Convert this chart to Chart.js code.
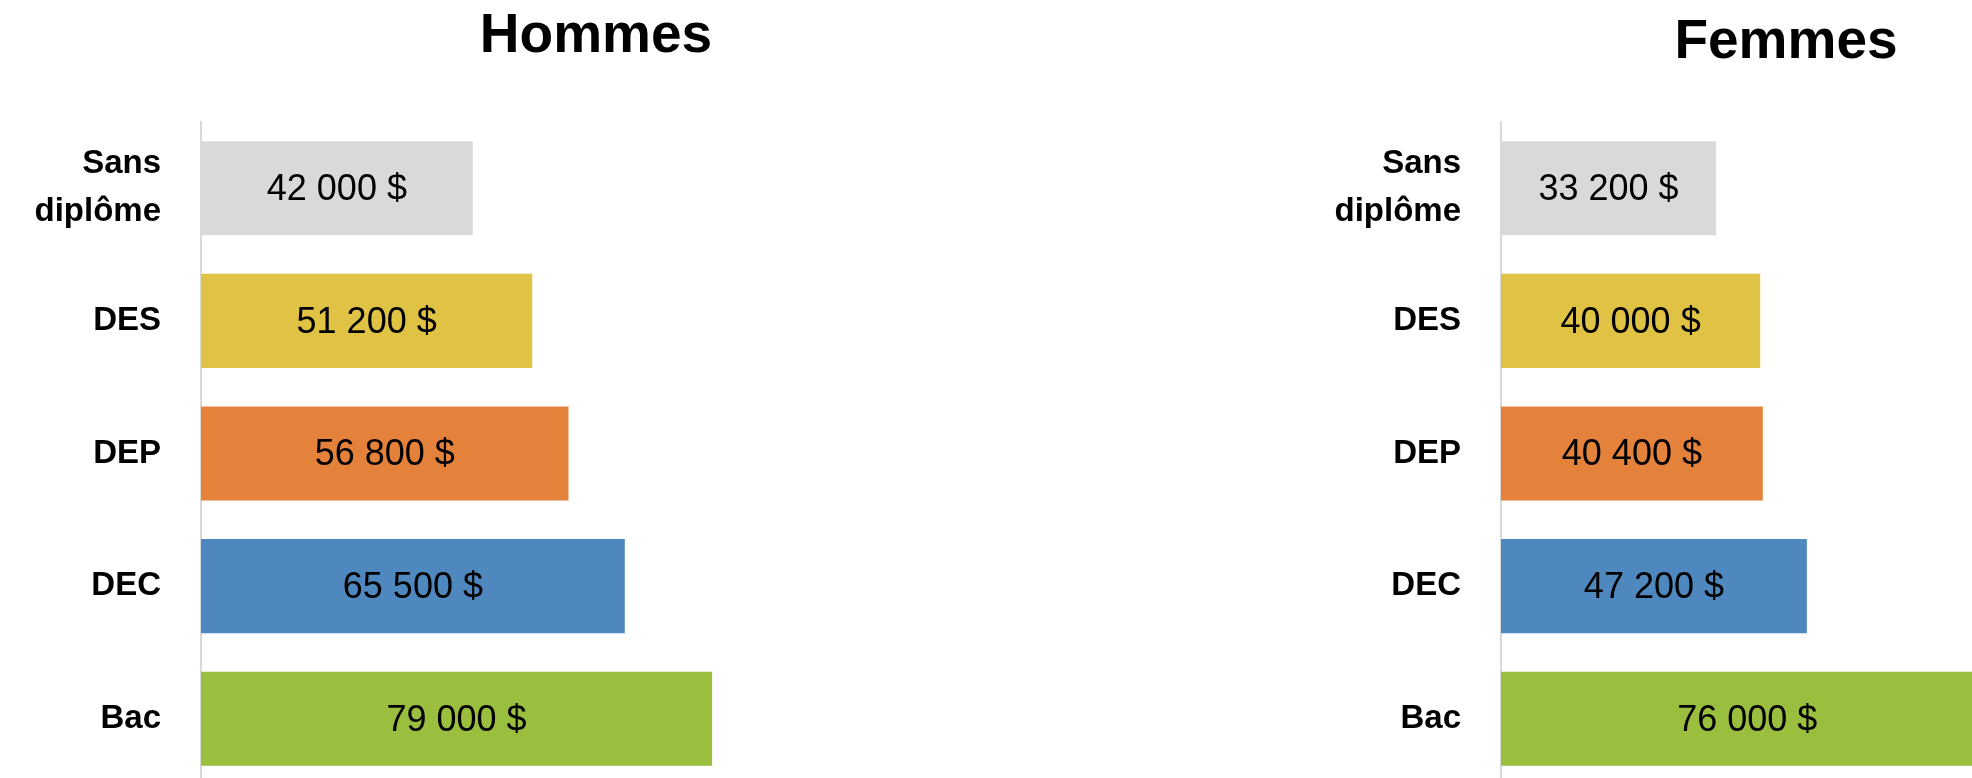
<!DOCTYPE html>
<html lang="fr">
<head>
<meta charset="utf-8">
<title>Revenu selon le diplôme</title>
<script src="https://cdn.jsdelivr.net/npm/chart.js@4.4.1/dist/chart.umd.min.js"></script>
<style>
  html, body { margin: 0; padding: 0; background: #fff; overflow: hidden; width: 1972px; height: 778px; position: relative; }
  .title {
    position: absolute;
    font-family: 'Liberation Sans', Arial, sans-serif;
    font-weight: bold;
    font-size: 55px;
    line-height: 55px;
    color: #000;
    white-space: nowrap;
    transform: translateX(-50%);
  }
  canvas { position: absolute; top: 0; }
</style>
</head>
<body>
<div class="title" style="left:596px; top:6px;">Hommes</div>
<div class="title" style="left:1786px; top:12px;">Femmes</div>
<canvas id="menChart" width="848" height="800" style="left:0;"></canvas>
<canvas id="womenChart" width="849" height="800" style="left:1300px;"></canvas>

<script>
// ─── Data ───────────────────────────────────────────────
const categories = [['Sans', 'diplôme'], 'DES', 'DEP', 'DEC', 'Bac'];
const menIncome = [42000, 51200, 56800, 65500, 79000];
const womenIncome = [33200, 40000, 40400, 47200, 76000];
const barColors = ['#d9d9d9', '#e0c245', '#e4823b', '#4f88be', '#9abf3f'];

const FONT = "'Liberation Sans', Arial, sans-serif";

// "42 000 $" style labels
function fmtMoney(v) {
    return String(v).replace(/\B(?=(\d{3})+(?!\d))/g, ' ') + ' $';
}

// draw the value in the middle of each bar
const barLabels = {
    id: 'barLabels',
    afterDatasetsDraw(chart) {
        const ctx = chart.ctx;
        const meta = chart.getDatasetMeta(0);
        const data = chart.data.datasets[0].data;
        ctx.save();
        ctx.font = '36px ' + FONT;
        ctx.fillStyle = '#000';
        ctx.textAlign = 'center';
        ctx.textBaseline = 'middle';
        meta.data.forEach((bar, i) => {
            const cx = (bar.x + bar.base) / 2;
            ctx.fillText(fmtMoney(data[i]), cx, bar.y + 2);
        });
        ctx.restore();
    }
};

function makeChart(id, values) {
    const ctx = document.getElementById(id).getContext('2d');
    return new Chart(ctx, {
        type: 'bar',
        data: {
            labels: categories,
            datasets: [{
                data: values,
                backgroundColor: barColors,
                borderWidth: 0,
                barPercentage: 0.71,
                categoryPercentage: 1.0
            }]
        },
        options: {
            indexAxis: 'y',
            responsive: false,
            animation: false,
            devicePixelRatio: 1,
            layout: { padding: { top: 122, bottom: 15, left: 0, right: 0 } },
            plugins: {
                legend: { display: false },
                tooltip: { enabled: false }
            },
            scales: {
                x: { display: false, min: 0, max: 100000 },
                y: {
                    afterFit(scale) {
                        // fixed axis width, and don't let the label padding squeeze the plot
                        scale.width = 201;
                        scale.paddingTop = 0;
                        scale.paddingBottom = 0;
                    },
                    grid: { display: false, drawTicks: false },
                    border: { display: true, color: '#d9d9d9', width: 2 },
                    ticks: {
                        color: '#000',
                        padding: 40,
                        font: { family: FONT, size: 33, weight: 'bold', lineHeight: 1.45 }
                    }
                }
            }
        },
        plugins: [barLabels]
    });
}

const menChart = makeChart('menChart', menIncome);
const womenChart = makeChart('womenChart', womenIncome);
</script>
</body>
</html>
